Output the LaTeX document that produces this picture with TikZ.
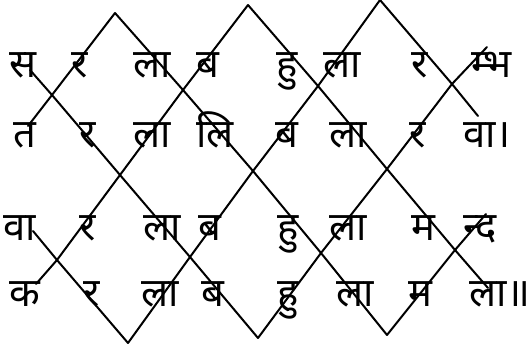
\documentclass[tikz,border=0pt]{standalone}
\usepackage{fontspec}
\newfontfamily\deva[Script=Devanagari]{Noto Sans}
\usetikzlibrary{positioning}

\begin{document}
\begin{tikzpicture}[x=1pt,y=-1pt,
  akshara/.style={font=\deva\bfseries\fontsize{40}{44}\selectfont,anchor=base,inner sep=0pt},
  rekha/.style={line width=2pt,line cap=round,line join=miter}]
  \useasboundingbox (0,0) rectangle (530,350);
  % peaks, crossings and valleys of the two zigzags
  \coordinate (P1) at (115,13);  \coordinate (P2) at (248,5);   \coordinate (P3) at (380,0);
  \coordinate (A1) at (52,95);   \coordinate (A2) at (183,90);  \coordinate (A3) at (318,86);
  \coordinate (A4) at (452,84);
  \coordinate (B1) at (120,175); \coordinate (B2) at (253,171); \coordinate (B3) at (387,169);
  \coordinate (C1) at (57,260);  \coordinate (C2) at (190,257); \coordinate (C3) at (321,253);
  \coordinate (C4) at (455,250);
  \coordinate (V1) at (128,343); \coordinate (V2) at (258,338); \coordinate (V3) at (387,335);
  % loose ends
  \coordinate (E1) at (30,70);   \coordinate (E2) at (28,126);  \coordinate (E3) at (36,284);
  \coordinate (E4) at (33,231);  \coordinate (E5) at (487,47);  \coordinate (E6) at (478,116);
  \coordinate (E7) at (486,214); \coordinate (E8) at (488,288);

  % falling lines
  \draw[rekha] (E1)--(A1)--(B1)--(C2)--(V2);
  \draw[rekha] (P1)--(A2)--(B2)--(C3)--(V3);
  \draw[rekha] (P2)--(A3)--(B3)--(C4)--(E8);
  \draw[rekha] (P3)--(A4)--(E6);
  \draw[rekha] (E4)--(C1)--(V1);
  % rising lines
  \draw[rekha] (E2)--(A1)--(P1);
  \draw[rekha] (E3)--(C1)--(B1)--(A2)--(P2);
  \draw[rekha] (V1)--(C2)--(B2)--(A3)--(P3);
  \draw[rekha] (V2)--(C3)--(B3)--(A4)--(E5);
  \draw[rekha] (V3)--(C4)--(E7);

  % the four lines of the verse
  \foreach \x/\t [count=\i] in {23/स,80/र,152/ला,208/ब,287/हु,342/ला,420/र,492/म्भ}
    \node[akshara] (a-\i) at (\x,78) {\t};
  \foreach \x/\t [count=\i] in {25/त,88/र,152/ला,215/लि,287/ब,348/ला,418/र,487/वा।}
    \node[akshara] (b-\i) at (\x,148) {\t};
  \foreach \x/\t [count=\i] in {20/वा,88/र,162/ला,210/ब,288/हु,348/ला,423/म,480/न्द}
    \node[akshara] (c-\i) at (\x,240) {\t};
  \foreach \x/\t [count=\i] in {25/क,92/र,160/ला,213/ब,288/हु,355/ला,420/म,500/ला॥}
    \node[akshara] (d-\i) at (\x,306) {\t};
\end{tikzpicture}
\end{document}
